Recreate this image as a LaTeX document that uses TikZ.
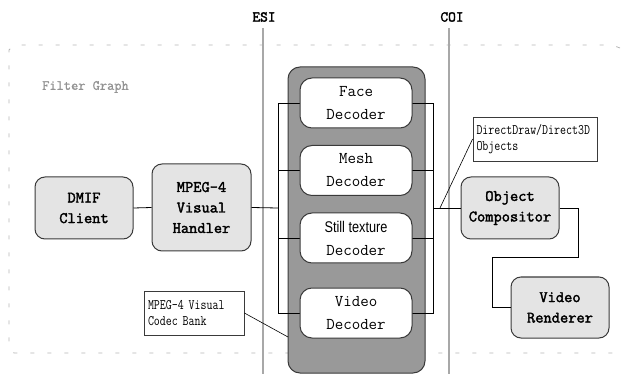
\documentclass[tikz,border=0pt]{standalone}
\usepackage{fontspec}
\setmainfont{Liberation Mono}
\newfontfamily\condfont[FakeStretch=0.8]{Latin Modern Mono}
\newfontfamily\stillfont[FakeStretch=0.82]{Liberation Sans}
\newfontfamily\boldmono[FakeBold=2.2]{Latin Modern Mono}
\newfontfamily\semibmono[FakeBold=1.2]{Latin Modern Mono}
\usetikzlibrary{calc}
\definecolor{boxfill}{HTML}{E4E4E4}
\definecolor{bankfill}{HTML}{999999}
\definecolor{edge}{HTML}{3A3A3A}
\definecolor{vgray}{HTML}{A8A8A8}
\definecolor{framegray}{HTML}{B4B4B4}
\tikzset{
  graybox/.style={draw=edge, line width=1pt, fill=boxfill, rounded corners=10pt,
    minimum width=98pt, align=center, inner sep=0pt,
    font=\boldmono\fontsize{16}{20.5}\selectfont},
  decbox/.style={draw=edge, line width=1pt, fill=white, rounded corners=12pt,
    minimum width=112pt, minimum height=50pt, align=center, inner sep=0pt,
    font=\ttfamily\fontsize{16.5}{23}\selectfont},
  bankbox/.style={draw=edge, line width=1pt, fill=bankfill, rounded corners=12pt,
    minimum width=137pt, minimum height=306pt, inner sep=0pt},
  callout/.style={draw=edge, line width=0.8pt, fill=white, align=left, inner sep=0pt,
    font=\condfont\fontsize{14.5}{15.5}\selectfont, text width=112pt},
  conn/.style={draw=black, line width=0.8pt},
  vline/.style={draw=vgray, line width=1.8pt},
  lbl/.style={font=\boldmono\fontsize{15}{16}\selectfont, inner sep=1pt}
}
\begin{document}
\begin{tikzpicture}[x=1pt,y=-1pt]
\useasboundingbox (0,0) rectangle (624,374);
% frame
\draw[framegray, line width=0.8pt, dash pattern=on 4pt off 13pt]
  (620,48) -- (612,45) -- (14,45) -- (9,50) -- (9,348) -- (14,353) -- (622,353);
\node[font=\semibmono\fontsize{14}{16}\selectfont, text=gray!85, anchor=west, inner sep=0pt] (fg) at (42,87) {Filter Graph};
% ESI / COI
\node[lbl] (esi) at (264,17) {ESI};
\node[lbl] (coi) at (452,17) {COI};
\coordinate (esib) at (263,374);
\coordinate (coib) at (449,374);
\draw[vline] (263,28) -- (esib);
\draw[vline] (449,28) -- (coib);
% bank
\node[bankbox] (bank) at (356.5,220) {};
% left nodes
\node[graybox, minimum height=62pt] (dmif) at (84,208) {DMIF\\Client};
\node[graybox, minimum height=87pt, minimum width=99pt] (hand) at (201.5,207.5) {MPEG-4\\Visual\\Handler};
% junctions
\coordinate (jl) at (278,208);
\coordinate (jr) at (433,208);
% decoders positions
\coordinate (fc) at (356,103);
\coordinate (mc) at (356,170.5);
\coordinate (sc) at (356,238);
\coordinate (vc) at (356,313);
% connectors behind decoders
\draw[conn] (dmif.east) -- (hand.west);
\draw[conn] (hand.east) -- (jl);
\draw[conn] (fc) -- (fc -| jl) -- (vc -| jl) -- (vc);
\draw[conn] (mc) -- (mc -| jl);
\draw[conn] (sc) -- (sc -| jl);
\draw[conn] (fc) -- (fc -| jr) -- (vc -| jr) -- (vc);
\draw[conn] (mc) -- (mc -| jr);
\draw[conn] (sc) -- (sc -| jr);
% decoders
\node[decbox] (face) at (fc) {Face\\Decoder};
\node[decbox] (mesh) at (mc) {Mesh\\Decoder};
\node[decbox] (still) at (sc) {{\stillfont\fontsize{15.5}{23}\selectfont Still texture}\\Decoder};
\node[decbox] (video) at (vc) {Video\\Decoder};
% right nodes
\node[graybox, minimum height=62pt] (comp) at (510,208) {Object\\Compositor};
\node[graybox, minimum height=61pt] (rend) at (560,307.5) {Video\\Renderer};
\draw[conn] (jr) -- (comp.west);
\coordinate (c1) at (578,257);
\coordinate (c2) at (492,257);
\draw[conn] (comp.east) -| (c1) -- (c2) |- (rend.west);
% callouts
\node[callout, minimum height=44pt, minimum width=124pt, text width=117pt] (dd) at (535,139)
  {DirectDraw/Direct3D\\Objects};
\node[callout, minimum height=44pt, minimum width=100pt, text width=92pt] (cb) at (194,313)
  {MPEG-4 Visual\\Codec Bank};
\coordinate (p1) at (440,208);
\coordinate (p2) at (288,337);
\draw[conn, line width=0.6pt] (dd.west) -- (p1);
\draw[conn, line width=0.6pt] (cb.east) -- (p2);
\end{tikzpicture}
\end{document}
